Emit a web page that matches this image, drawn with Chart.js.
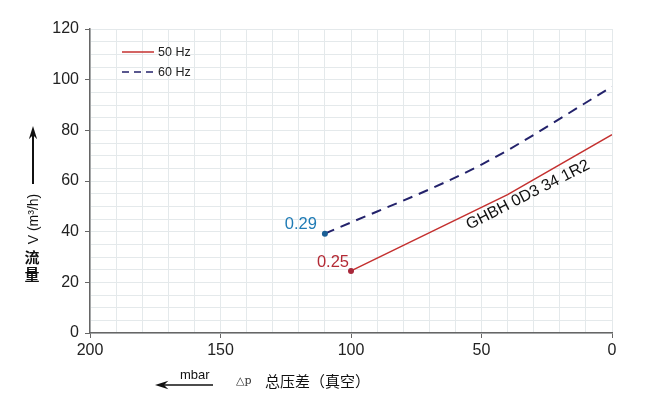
<!DOCTYPE html>
<html>
<head>
<meta charset="utf-8">
<script src="https://cdn.jsdelivr.net/npm/chart.js"></script>
<style>
  body { margin: 0; background: #fff; }
  canvas { display: block; }
</style>
</head>
<body>
<canvas id="pumpChart" width="650" height="399"></canvas>
<script>
// pressure difference (mbar) and flow (m3/h)
const pressure50 = [100, 40, 0]
const flow50 = [24.5, 54.6, 78.3]
const pressure60 = [110, 50, 0]
const flow60 = [39.2, 66.5, 97.2]
const seriesNames = ["50 Hz", "60 Hz"]
const startLabels = ["0.25", "0.29"]
const modelName = "GHBH 0D3 34 1R2"

const RED = "#c4302f"
const NAVY = "#23226b"
const FONT = "'Liberation Sans', Arial, sans-serif"
const CJK = "'Noto Sans CJK SC', sans-serif"

const toPoints = (xs, ys) => xs.map((x, i) => ({ x: x, y: ys[i] }))

function arrow(ctx, x1, y1, x2, y2) {
  // line with a filled head at (x2, y2)
  const a = Math.atan2(y2 - y1, x2 - x1)
  ctx.beginPath()
  ctx.moveTo(x1, y1)
  ctx.lineTo(x2 - Math.cos(a) * 8, y2 - Math.sin(a) * 8)
  ctx.stroke()
  ctx.beginPath()
  ctx.moveTo(x2, y2)
  ctx.lineTo(x2 - Math.cos(a - 0.3) * 14, y2 - Math.sin(a - 0.3) * 14)
  ctx.lineTo(x2 - Math.cos(a) * 9, y2 - Math.sin(a) * 9)
  ctx.lineTo(x2 - Math.cos(a + 0.3) * 14, y2 - Math.sin(a + 0.3) * 14)
  ctx.closePath()
  ctx.fill()
}

const extras = {
  id: "extras",
  afterDraw(chart) {
    const ctx = chart.ctx
    const xs = chart.scales.x
    const ys = chart.scales.y

    // legend inside the plot
    ctx.save()
    ctx.lineWidth = 1.5
    ctx.strokeStyle = RED
    ctx.beginPath(); ctx.moveTo(122, 52); ctx.lineTo(154, 52); ctx.stroke()
    ctx.strokeStyle = NAVY
    ctx.setLineDash([7, 5])
    ctx.beginPath(); ctx.moveTo(122, 72); ctx.lineTo(154, 72); ctx.stroke()
    ctx.setLineDash([])
    ctx.fillStyle = "#222"
    ctx.font = "12.5px " + FONT
    ctx.textBaseline = "middle"
    ctx.fillText(seriesNames[0], 158, 53)
    ctx.fillText(seriesNames[1], 158, 73)
    ctx.restore()

    // start point labels
    ctx.save()
    ctx.font = "16.5px " + FONT
    ctx.textAlign = "right"
    ctx.textBaseline = "alphabetic"
    ctx.fillStyle = "#b32a35"
    ctx.fillText(startLabels[0], xs.getPixelForValue(pressure50[0]) - 2, ys.getPixelForValue(flow50[0]) - 4)
    ctx.fillStyle = "#1f7bb5"
    ctx.fillText(startLabels[1], xs.getPixelForValue(pressure60[0]) - 8, ys.getPixelForValue(flow60[0]) - 5)
    ctx.restore()

    // model name along the curve
    ctx.save()
    ctx.translate(530, 199)
    ctx.rotate(-0.47)
    ctx.textAlign = "center"
    ctx.fillStyle = "#111"
    ctx.font = "16px " + FONT
    ctx.fillText(modelName, 0, 0)
    ctx.restore()

    // y axis title
    ctx.save()
    ctx.fillStyle = "#111"
    ctx.strokeStyle = "#111"
    ctx.lineWidth = 2
    arrow(ctx, 33, 184, 33, 126)
    ctx.translate(38, 219)
    ctx.rotate(-Math.PI / 2)
    ctx.textAlign = "center"
    ctx.font = "14px " + FONT
    ctx.fillText("V (m³/h)", 0, 0)
    ctx.restore()

    ctx.save()
    ctx.fillStyle = "#111"
    ctx.textAlign = "center"
    ctx.textBaseline = "middle"
    ctx.font = "bold 15px " + CJK
    ctx.fillText("流", 32, 257)
    ctx.fillText("量", 32, 274)
    ctx.restore()

    // x axis title
    ctx.save()
    ctx.fillStyle = "#111"
    ctx.strokeStyle = "#111"
    ctx.lineWidth = 1.5
    arrow(ctx, 213, 385, 155, 385)
    ctx.textBaseline = "middle"
    ctx.font = "13px " + FONT
    ctx.fillText("mbar", 180, 375)
    ctx.font = "11px 'DejaVu Serif', serif"
    ctx.fillStyle = "#333"
    ctx.fillText("△p", 236, 381)
    ctx.fillStyle = "#111"
    ctx.font = "15px " + CJK
    ctx.fillText("总压差（真空）", 265, 381)
    ctx.restore()
  }
}

document.addEventListener("DOMContentLoaded", () => {
  const canvas = document.getElementById("pumpChart")

  new Chart(canvas, {
    type: "line",
    data: {
      datasets: [
        {
          label: seriesNames[0],
          data: toPoints(pressure50, flow50),
          borderColor: RED,
          borderWidth: 1.5,
          pointRadius: (c) => (c.dataIndex === 0 ? 3 : 0),
          pointBackgroundColor: "#a8283a",
          pointBorderWidth: 0,
          tension: 0,
        },
        {
          label: seriesNames[1],
          data: toPoints(pressure60, flow60),
          borderColor: NAVY,
          borderWidth: 2,
          borderDash: [10, 7],
          pointRadius: (c) => (c.dataIndex === 0 ? 3 : 0),
          pointBackgroundColor: "#1a5f96",
          pointBorderWidth: 0,
          cubicInterpolationMode: "monotone",
        },
      ],
    },
    options: {
      responsive: false,
      animation: false,
      layout: { padding: { top: 29, right: 38 } },
      plugins: {
        legend: { display: false },
        tooltip: { enabled: false },
      },
      scales: {
        x: {
          type: "linear",
          min: 0,
          max: 200,
          reverse: true,
          afterFit: (s) => { s.height = 66 },
          ticks: {
            stepSize: 10,
            autoSkip: false,
            maxRotation: 0,
            padding: 3,
            color: "#222",
            font: { size: 16, family: FONT },
            callback: (v) => (v % 50 === 0 ? v : ""),
          },
          grid: {
            color: "#e4e9eb",
            tickLength: 5,
            tickColor: (c) => (c.tick && c.tick.value % 50 === 0 ? "#666" : "rgba(0,0,0,0)"),
          },
          border: { color: "#666", width: 1.5 },
        },
        y: {
          min: 0,
          max: 120,
          afterFit: (s) => { s.width = 90 },
          ticks: {
            stepSize: 5,
            autoSkip: false,
            padding: 6,
            color: "#222",
            font: { size: 16, family: FONT },
            callback: (v) => (v % 20 === 0 ? v : ""),
          },
          grid: {
            color: "#e4e9eb",
            tickLength: 5,
            tickColor: (c) => (c.tick && c.tick.value % 20 === 0 ? "#666" : "rgba(0,0,0,0)"),
          },
          border: { color: "#666", width: 1.5 },
        },
      },
    },
    plugins: [extras],
  })
})
</script>
</body>
</html>
